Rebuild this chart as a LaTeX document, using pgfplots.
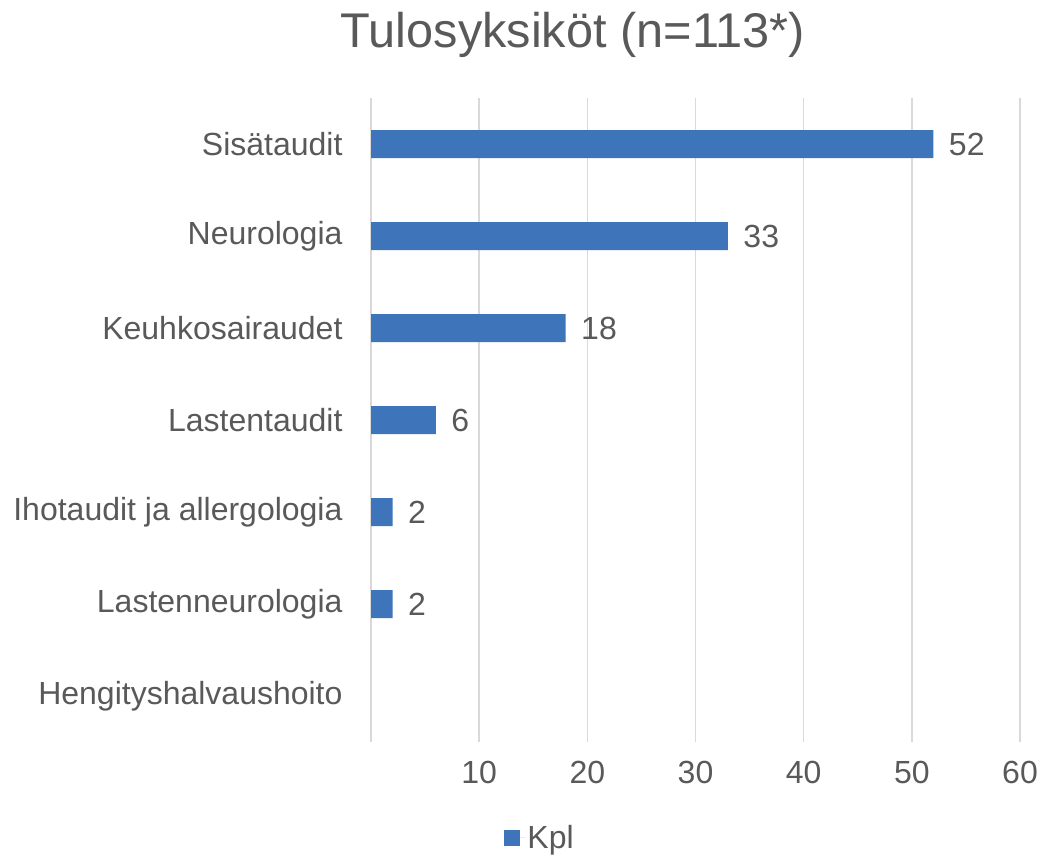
\documentclass[border=0pt]{standalone}
\usepackage{fontspec}
\setmainfont{Liberation Sans}
\usepackage{pgfplots}
\pgfplotsset{compat=1.18}
\definecolor{barblue}{RGB}{62,117,186}
\definecolor{txt}{RGB}{89,89,89}
\definecolor{gridc}{RGB}{217,217,217}
\begin{document}
\begin{tikzpicture}[x=1bp,y=1bp]
\path[use as bounding box] (0,0) rectangle (1040,-855);
\begin{axis}[
  at={(371bp,-742bp)}, anchor=south west,
  scale only axis, width=649bp, height=644bp,
  xbar, bar width=28bp,
  xmin=0, xmax=60,
  ymin=-0.5, ymax=6.5, y dir=reverse,
  ytick={0,...,6},
  yticklabels={Sisätaudit,Neurologia,Keuhkosairaudet,Lastentaudit,Ihotaudit ja allergologia,Lastenneurologia,Hengityshalvaushoito},
  xtick={0,10,...,60}, xticklabels={,10,20,30,40,50,60},
  xmajorgrids, major grid style={gridc, line width=1.5bp},
  axis line style={draw=none},
  major tick length=0pt,
  tick label style={font=\fontsize{32bp}{38bp}\selectfont, text=txt},
  yticklabel style={xshift=-25bp},
  xticklabel style={yshift=-16bp},
  /pgf/number format/assume math mode=true,
  nodes near coords,
  nodes near coords style={font=\fontsize{32bp}{38bp}\selectfont, text=txt, xshift=12bp},
  legend style={at={(0.2605,-0.149)}, anchor=center, draw=none, fill=none,
    font=\fontsize{32bp}{38bp}\selectfont, text=txt},
  legend image code/.code={\fill[barblue] (0bp,-8bp) rectangle (16bp,8bp); \path (0bp,0bp) -- (21bp,0bp);},
  clip=false,
]
\addplot[fill=barblue, draw=none] coordinates {(52,0) (33,1) (18,2) (6,3) (2,4) (2,5)};
\addlegendentry{Kpl}
\node[text=txt, font=\fontsize{48.7bp}{58bp}\selectfont, anchor=center] at (axis description cs:0.311,1.098) {Tulosyksiköt (n=113*)};
\end{axis}
\end{tikzpicture}
\end{document}
